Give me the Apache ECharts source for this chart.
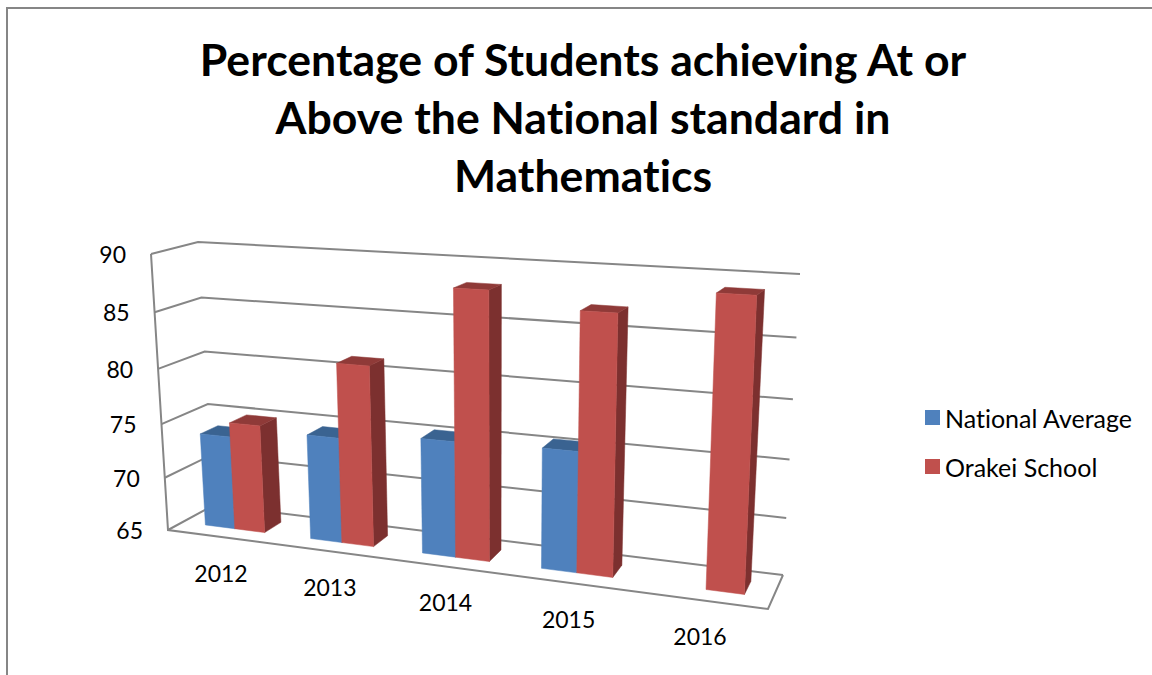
<!DOCTYPE html>
<html>
<head>
<meta charset="utf-8">
<style>html,body{margin:0;padding:0;background:#fff}#chart{width:1152px;height:675px}#chart text{font-variant-ligatures:none}</style>
<script src="https://cdn.jsdelivr.net/npm/echarts@6/dist/echarts.min.js"></script>
</head>
<body>
<div id="chart"></div>
<script>
const years = ['2012', '2013', '2014', '2015', '2016']
const nationalAverage = [73.7, 74.6, 75.3, 75.5, null]
const orakeiSchool = [75, 81.2, 88.2, 87, 89]
const valueTicks = [65, 70, 75, 80, 85, 90]

const FONT = 'Lato, "Noto Sans", sans-serif'
const LINE = '#868686'

// corners of the 3D box as seen by the camera
const front = { bl: [168, 530], br: [768, 609], tl: [151, 254], tr: [781, 288] }
const back = { bl: [214, 505], br: [783, 575], tl: [198, 242], tr: [800, 274] }
const BAR_Z0 = 0.32
const BAR_Z1 = 0.71
const BAR_SHARE = 0.285 // one bar's share of a category band
const BAR_SHIFT = 1

const warp = (t, k) => t / (t + k * (1 - t))
const mix = (a, b, t) => [a[0] + (b[0] - a[0]) * t, a[1] + (b[1] - a[1]) * t]

// u, v in 0..1 along the flat grid, z = 0 front, 1 back
function project(u, v, z) {
    const uu = warp(u, 1.17)
    const vv = warp(v, 1.07)
    const f = mix(mix(front.bl, front.br, uu), mix(front.tl, front.tr, uu), vv)
    const b = mix(mix(back.bl, back.br, uu), mix(back.tl, back.tr, uu), vv)
    return mix(f, b, z)
}

function unit(params, x, y) {
    const c = params.coordSys
    return [(x - c.x) / c.width, (c.y + c.height - y) / c.height]
}

function face(points, fill) {
    return { type: 'polygon', shape: { points }, style: { fill, stroke: fill, lineWidth: 0.5 } }
}

function barRenderer(side, colors) {
    return function (params, api) {
        const val = api.value(1)
        if (val == null || isNaN(val)) return
        const top = api.coord([api.value(0), val])
        const base = api.coord([api.value(0), valueTicks[0]])
        const w = api.size([1, 0])[0] * BAR_SHARE
        const [u0, v1] = unit(params, top[0] + BAR_SHIFT + (side < 0 ? -w : 0), top[1])
        const [u1] = unit(params, top[0] + BAR_SHIFT + (side < 0 ? 0 : w), top[1])
        const [, v0] = unit(params, base[0], base[1])
        return {
            type: 'group',
            children: [
                face([project(u1, v0, BAR_Z0), project(u1, v0, BAR_Z1), project(u1, v1, BAR_Z1), project(u1, v1, BAR_Z0)], colors.side),
                face([project(u0, v1, BAR_Z0), project(u1, v1, BAR_Z0), project(u1, v1, BAR_Z1), project(u0, v1, BAR_Z1)], colors.top),
                face([project(u0, v0, BAR_Z0), project(u1, v0, BAR_Z0), project(u1, v1, BAR_Z0), project(u0, v1, BAR_Z0)], colors.front)
            ]
        }
    }
}

function line(points) {
    return { type: 'polyline', shape: { points }, style: { stroke: LINE, lineWidth: 2, fill: null } }
}

function renderWalls(params, api) {
    const tick = api.value(1)
    const p = api.coord([0, tick])
    const [, v] = unit(params, p[0], p[1])
    const children = [
        line([project(0, v, 0), project(0, v, 1), project(1, v, 1)]),
        {
            type: 'text',
            x: project(0, v, 0)[0] - 25,
            y: project(0, v, 0)[1],
            style: { text: String(tick), fill: '#000', font: '23px ' + FONT, textAlign: 'right', textVerticalAlign: 'middle' }
        }
    ]
    if (tick === valueTicks[0]) {
        children.push(line([project(0, 1, 0), project(0, 0, 0), project(1, 0, 0), project(1, 0, 1)]))
    }
    return { type: 'group', children }
}

function renderYearLabel(params, api) {
    const p = api.coord([api.value(0), valueTicks[0]])
    const [u, v] = unit(params, p[0], p[1])
    const pos = project(u, v, 0)
    return {
        type: 'text',
        x: pos[0] + 1,
        y: pos[1] + 36,
        style: { text: years[api.value(0)], fill: '#000', font: '23px ' + FONT, textAlign: 'center', textVerticalAlign: 'middle' }
    }
}

const chart = echarts.init(document.getElementById('chart'), null, { renderer: 'svg' })
chart.setOption({
    animation: false,
    backgroundColor: '#fff',
    title: {
        text: 'Percentage of Students achieving At or\nAbove the National standard in\nMathematics',
        left: 578,
        top: 24,
        textAlign: 'center',
        textStyle: { fontFamily: FONT, fontWeight: 'bold', fontSize: 44.6, lineHeight: 58, color: '#000' }
    },
    legend: {
        data: ['National Average', 'Orakei School'],
        orient: 'vertical',
        left: 925,
        top: 405,
        padding: 0,
        itemWidth: 15,
        itemHeight: 15,
        itemGap: 24,
        icon: 'rect',
        textStyle: { fontFamily: FONT, fontSize: 25, color: '#000' }
    },
    grid: { left: 168, top: 254, width: 600, height: 276 },
    xAxis: { type: 'category', data: years, show: false },
    yAxis: { type: 'value', min: 65, max: 90, interval: 5, show: false },
    graphic: [{
        type: 'polyline',
        shape: { points: [[7, 675], [7, 8], [1152, 8]] },
        style: { stroke: LINE, lineWidth: 2, fill: null }
    }],
    series: [
        {
            name: 'walls',
            type: 'custom',
            renderItem: renderWalls,
            data: valueTicks.map(t => [0, t]),
            silent: true,
            z: 1
        },
        {
            name: 'years',
            type: 'custom',
            renderItem: renderYearLabel,
            data: years.map((y, i) => [i, valueTicks[0]]),
            silent: true,
            z: 1
        },
        {
            name: 'National Average',
            type: 'custom',
            renderItem: barRenderer(-1, { front: '#4F81BD', top: '#3A6391', side: '#3A6391' }),
            itemStyle: { color: '#4F81BD' },
            data: nationalAverage.map((v, i) => [i, v]),
            z: 2
        },
        {
            name: 'Orakei School',
            type: 'custom',
            renderItem: barRenderer(1, { front: '#C0504D', top: '#8F3A38', side: '#7C302F' }),
            itemStyle: { color: '#C0504D' },
            data: orakeiSchool.map((v, i) => [i, v]),
            z: 3
        }
    ]
})
</script>
</body>
</html>
